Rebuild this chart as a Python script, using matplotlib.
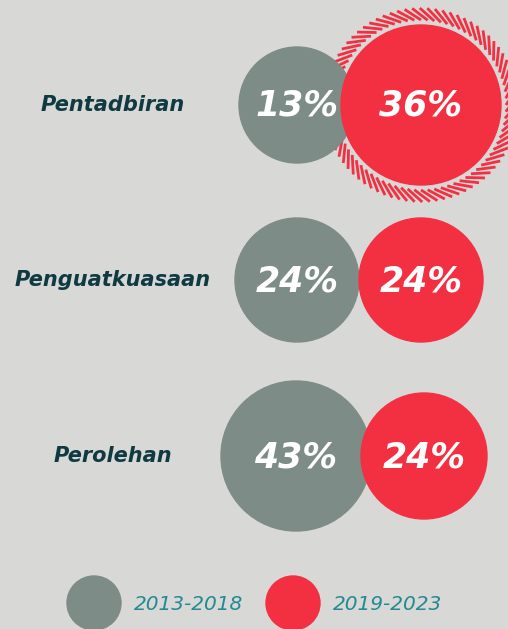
import numpy as np
import matplotlib
matplotlib.use('Agg')
from matplotlib import pyplot as plt
from matplotlib.patches import Circle

# data
categories = ['Pentadbiran', 'Penguatkuasaan', 'Perolehan']
periods = ['2013-2018', '2019-2023']
share_old = [13, 24, 43]
share_new = [36, 24, 24]

# layout (pixels)
row_y = [105, 280, 456]
old_x = [297, 297, 296]
new_x = [421, 421, 424]
old_r = [58, 62, 75]
new_r = [80, 62, 63]

bg = '#d8d8d6'
grey = '#7d8c87'
red = '#f33042'
label_c = '#0f3a42'
legend_c = '#238a92'

fig = plt.figure(figsize=(5.08, 6.29), dpi=100)
fig.patch.set_facecolor(bg)
ax = fig.add_axes([0, 0, 1, 1])
ax.set_xlim(0, 508)
ax.set_ylim(629, 0)
ax.set_aspect('equal')
ax.axis('off')

# hatched ring round the biggest new value
k = int(np.argmax(share_new))
cx, cy = new_x[k], row_y[k]
for t in np.linspace(0, 2 * np.pi, 80, endpoint=False):
    t2 = t + 0.17
    ax.plot([cx + 85 * np.cos(t), cx + 97 * np.cos(t2)],
            [cy - 85 * np.sin(t), cy - 97 * np.sin(t2)],
            color=red, lw=2, solid_capstyle='butt', zorder=1)

for i, cat in enumerate(categories):
    ax.add_patch(Circle((old_x[i], row_y[i]), old_r[i], color=grey, zorder=2))
    ax.add_patch(Circle((new_x[i], row_y[i]), new_r[i], color=red, zorder=3))
    for x, v in [(old_x[i], share_old[i]), (new_x[i], share_new[i])]:
        ax.text(x, row_y[i] + 1, f'{v}%', color='white', fontsize=25,
                fontweight='bold', fontstyle='italic', family='DejaVu Sans',
                ha='center', va='center', zorder=4)
    ax.text(113, row_y[i], cat, color=label_c, fontsize=15,
            fontweight='bold', fontstyle='italic', family='DejaVu Sans',
            ha='center', va='center')

# legend
for x, col, lab in [(94, grey, periods[0]), (293, red, periods[1])]:
    ax.add_patch(Circle((x, 603), 27, color=col))
    ax.text(x + 40, 604, lab, color=legend_c, fontsize=14.5,
            fontstyle='italic', family='DejaVu Sans', ha='left', va='center')

plt.savefig('out.png', dpi=100, facecolor=bg)
